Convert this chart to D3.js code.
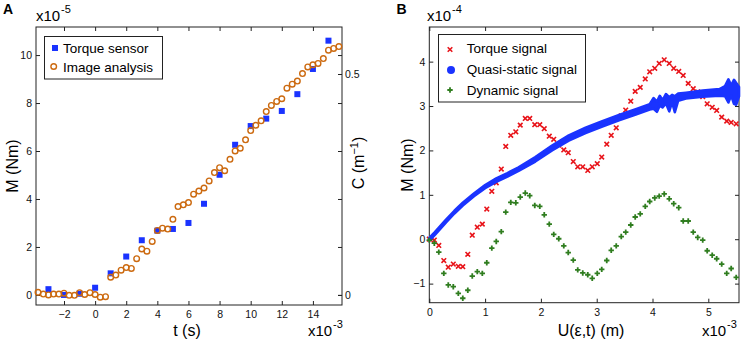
<!DOCTYPE html>
<html>
<head>
<meta charset="utf-8">
<script src="https://cdn.jsdelivr.net/npm/d3@7"></script>
<style>
  body { margin: 0; background: #fff; }
  svg { font-family: "Liberation Sans", Arial, sans-serif; }
</style>
</head>
<body>
<div id="chart"></div>
<script>
// ---- Panel A data ----
const aTicksX = [-2, 0, 2, 4, 6, 8, 10, 12, 14];
const aTicksM = [0, 2, 4, 6, 8, 10];
const aTicksC = [0, 0.5];

// torque sensor (t in ms, M in 1e-5 Nm)
const tTorque = [-3, -2, -1, 0, 1, 2, 3, 4, 5, 6, 7, 8, 9, 10, 11, 12, 13, 14, 15];
const mTorque = [0.24, 0, 0.05, 0.3, 0.9, 1.6, 2.28, 2.68, 2.75, 3.0, 3.8, 5.01, 6.26, 7.04, 7.35, 7.67, 8.37, 9.42, 10.6];

// image analysis (t in ms, C in 1/m)
const tImage = [-3.67, -3.33, -3, -2.67, -2.33, -2, -1.67, -1.33, -1, -0.67, -0.33, 0, 0.33, 0.67,
  1, 1.33, 1.67, 2, 2.33, 2.67, 3, 3.33, 3.67, 4, 4.33, 4.67, 5, 5.33, 5.67, 6, 6.33, 6.67,
  7, 7.33, 7.67, 8, 8.33, 8.67, 9, 9.33, 9.67, 10, 10.33, 10.67, 11, 11.33, 11.67, 12, 12.33,
  12.67, 13, 13.33, 13.67, 14, 14.33, 14.67, 15, 15.33, 15.67];
const cImage = [0.006, 0.002, 0, 0.002, 0.002, 0.004, -0.001, -0.001, 0.005, 0.001, 0.005, 0.001, -0.005, -0.004,
  0.040, 0.045, 0.056, 0.062, 0.060, 0.082, 0.104, 0.099, 0.121, 0.146, 0.151, 0.149, 0.171, 0.200,
  0.204, 0.209, 0.228, 0.235, 0.242, 0.258, 0.277, 0.288, 0.281, 0.307, 0.326, 0.332, 0.351, 0.372,
  0.384, 0.394, 0.415, 0.429, 0.438, 0.444, 0.468, 0.477, 0.484, 0.501, 0.516, 0.521, 0.524, 0.535,
  0.554, 0.558, 0.562];

// ---- Panel B data ----
const bTicksX = [0, 1, 2, 3, 4, 5];
const bTicksM = [-1, 0, 1, 2, 3, 4];

// U in 1e-3 m, M in 1e-4 Nm
const uGrid = [0, 0.09, 0.17, 0.26, 0.34, 0.43, 0.52, 0.60, 0.69, 0.77, 0.86, 0.95, 1.03, 1.12, 1.20,
  1.29, 1.37, 1.46, 1.55, 1.63, 1.72, 1.80, 1.89, 1.98, 2.06, 2.15, 2.23, 2.32, 2.41, 2.49, 2.58,
  2.66, 2.75, 2.84, 2.92, 3.01, 3.09, 3.18, 3.26, 3.35, 3.44, 3.52, 3.61, 3.69, 3.78, 3.87, 3.95,
  4.04, 4.12, 4.21, 4.30, 4.38, 4.47, 4.55, 4.64, 4.73, 4.81, 4.90, 4.98, 5.07, 5.15, 5.24, 5.33,
  5.41, 5.50];
const torqueSignal = [0, -0.02, -0.14, -0.48, -0.63, -0.56, -0.61, -0.62, -0.34, 0.09, 0.27, 0.34, 0.68,
  1.08, 1.27, 1.58, 2.09, 2.34, 2.42, 2.57, 2.72, 2.72, 2.58, 2.58, 2.49, 2.32, 2.25, 2.12, 2.01,
  1.95, 1.75, 1.63, 1.63, 1.55, 1.63, 1.70, 1.85, 2.14, 2.34, 2.51, 2.78, 2.91, 3.11, 3.33, 3.42,
  3.61, 3.77, 3.85, 3.96, 4.04, 3.96, 3.85, 3.78, 3.69, 3.51, 3.39, 3.32, 3.21, 3.05, 2.97, 2.90,
  2.75, 2.66, 2.63, 2.60];
const dynamicSignal = [-0.02, -0.09, -0.29, -0.77, -1.03, -1.07, -1.22, -1.33, -1.15, -0.83, -0.73, -0.77,
  -0.53, -0.20, -0.05, 0.17, 0.61, 0.83, 0.82, 0.95, 1.04, 0.98, 0.76, 0.74, 0.55, 0.34, 0.11, 0.01,
  -0.15, -0.30, -0.47, -0.69, -0.76, -0.80, -0.88, -0.77, -0.68, -0.48, -0.25, -0.15, 0.06, 0.16,
  0.32, 0.50, 0.57, 0.74, 0.85, 0.93, 0.97, 1.02, 0.91, 0.80, 0.71, 0.41, 0.41, 0.16, 0.04, -0.02,
  -0.26, -0.36, -0.44, -0.56, -0.77, -0.66, -0.86];

// quasi-static signal: dense band, given as lower / upper envelope
const qsU = [0, 0.1, 0.2, 0.3, 0.45, 0.6, 0.8, 1.0, 1.2, 1.4, 1.6, 1.9, 2.2, 2.5, 2.8, 3.1, 3.4, 3.7,
  3.95, 4.02, 4.08, 4.13, 4.18, 4.24, 4.3, 4.35, 4.4, 4.46, 4.6, 4.9, 5.2, 5.3, 5.36, 5.41, 5.46, 5.5, 5.55];
const qsLow = [-0.03, 0.10, 0.24, 0.38, 0.58, 0.76, 0.97, 1.15, 1.29, 1.41, 1.54, 1.75, 2.00, 2.22, 2.39,
  2.54, 2.68, 2.81, 2.92, 2.94, 2.87, 3.01, 2.97, 3.06, 2.88, 3.09, 2.86, 3.12, 3.17, 3.21, 3.23, 3.22,
  3.08, 3.24, 3.05, 3.03, 3.22];
const qsHigh = [0.03, 0.16, 0.30, 0.44, 0.64, 0.82, 1.03, 1.22, 1.37, 1.49, 1.62, 1.85, 2.11, 2.34, 2.51,
  2.66, 2.80, 2.93, 3.04, 3.18, 3.10, 3.23, 3.13, 3.27, 3.20, 3.25, 3.22, 3.28, 3.30, 3.35, 3.38, 3.45,
  3.60, 3.46, 3.59, 3.52, 3.43];

const axisColor = '#222';
const blue = '#1a33ff';
const orange = '#cc6a10';
const red = '#e8141a';
const green = '#2f7d1f';

var svg = d3.select('#chart').append('svg')
  .attr('width', 743)
  .attr('height', 343);

function styleAxis(g) {
  g.select('.domain').remove();
  g.selectAll('line').attr('stroke', axisColor);
  g.selectAll('text').attr('font-size', '10.5px').attr('fill', '#111')
    .attr('font-family', '"Liberation Sans", Arial, sans-serif');
}

function superLabel(x, y, sup) {
  svg.append('text').attr('x', x).attr('y', y).attr('font-size', '15px').text('x10');
  svg.append('text').attr('x', x + 25).attr('y', y - 8).attr('font-size', '11px').text(sup);
}

function frame(box, xScale, yScale, xTicks, yTicks) {
  const fmt = d3.format('');
  svg.append('g')
    .attr('transform', `translate(0,${box.bottom})`)
    .call(d3.axisBottom(xScale).tickValues(xTicks).tickFormat(fmt)
      .tickSizeInner(-4).tickSizeOuter(0).tickPadding(6))
    .call(styleAxis);
  svg.append('g')
    .attr('transform', `translate(0,${box.top})`)
    .call(d3.axisTop(xScale).tickValues(xTicks).tickSizeInner(-4).tickSizeOuter(0).tickFormat(''))
    .call(styleAxis);
  svg.append('g')
    .attr('transform', `translate(${box.left},0)`)
    .call(d3.axisLeft(yScale).tickValues(yTicks).tickFormat(fmt)
      .tickSizeInner(-4).tickSizeOuter(0).tickPadding(4))
    .call(styleAxis);
  svg.append('g')
    .attr('transform', `translate(${box.right},0)`)
    .call(d3.axisRight(yScale).tickValues(yTicks).tickSizeInner(-4).tickSizeOuter(0).tickFormat(''))
    .call(styleAxis);
  svg.append('rect')
    .attr('x', box.left).attr('y', box.top)
    .attr('width', box.right - box.left).attr('height', box.bottom - box.top)
    .attr('fill', 'none').attr('stroke', axisColor).attr('stroke-width', 1);
}

// ================= Panel A =================
const boxA = { left: 36, right: 342, top: 27, bottom: 305 };
const xA = d3.scaleLinear().domain([-3.8, 15.87]).range([boxA.left, boxA.right]);
const yA = d3.scaleLinear().domain([-0.42, 11.17]).range([boxA.bottom, boxA.top]);
const yC = d3.scaleLinear().domain([-0.0228, 0.6064]).range([boxA.bottom, boxA.top]);

frame(boxA, xA, yA, aTicksX, aTicksM);
svg.append('g')
  .attr('transform', `translate(${boxA.right},0)`)
  .call(d3.axisRight(yC).tickValues(aTicksC).tickSizeInner(-4).tickSizeOuter(0).tickPadding(3)
    .tickFormat(d3.format('')))
  .call(styleAxis);

var gA = svg.append('g');
gA.selectAll('rect.sq')
  .data(tTorque)
  .join('rect')
  .attr('x', d => xA(d) - 3)
  .attr('y', (d, i) => yA(mTorque[i]) - 3)
  .attr('width', 6).attr('height', 6)
  .attr('fill', blue);

gA.selectAll('circle.img')
  .data(tImage)
  .join('circle')
  .attr('cx', d => xA(d))
  .attr('cy', (d, i) => yC(cImage[i]))
  .attr('r', 2.8)
  .attr('fill', 'none')
  .attr('stroke', orange)
  .attr('stroke-width', 1.4);

// legend A
svg.append('rect').attr('x', 44.5).attr('y', 36.5).attr('width', 118).attr('height', 42.5)
  .attr('fill', '#fff').attr('stroke', axisColor);
svg.append('rect').attr('x', 52).attr('y', 45).attr('width', 6).attr('height', 6).attr('fill', blue);
svg.append('circle').attr('cx', 53.7).attr('cy', 66.5).attr('r', 2.8)
  .attr('fill', 'none').attr('stroke', orange).attr('stroke-width', 1.4);
svg.append('text').attr('x', 63).attr('y', 53).attr('font-size', '13.5px').text('Torque sensor');
svg.append('text').attr('x', 63).attr('y', 71.5).attr('font-size', '13.5px').text('Image analysis');

// labels A
svg.append('text').attr('x', 3).attr('y', 14).attr('font-size', '14px').attr('font-weight', 'bold').text('A');
superLabel(36, 21, '-5');
superLabel(308, 336, '-3');
svg.append('text').attr('x', 187).attr('y', 335.5).attr('font-size', '16px')
  .attr('text-anchor', 'middle').text('t (s)');
svg.append('text').attr('transform', 'translate(18,166) rotate(-90)').attr('font-size', '16px')
  .attr('text-anchor', 'middle').text('M (Nm)');
var cLab = svg.append('text').attr('transform', 'translate(364,163) rotate(-90)')
  .attr('font-size', '16px').attr('text-anchor', 'middle');
cLab.append('tspan').text('C (m');
cLab.append('tspan').attr('dy', -6).attr('font-size', '11px').text('−1');
cLab.append('tspan').attr('dy', 6).text(')');

// ================= Panel B =================
const boxB = { left: 429.3, right: 739, top: 27, bottom: 302.7 };
const xB = d3.scaleLinear().domain([0, 5.55]).range([boxB.left, boxB.right]);
const yB = d3.scaleLinear().domain([-1.43, 4.78]).range([boxB.bottom, boxB.top]);

frame(boxB, xB, yB, bTicksX, bTicksM);

var gB = svg.append('g');
const cross = 'M-2.3,-2.3L2.3,2.3M-2.3,2.3L2.3,-2.3';
const plus = 'M-2.7,0H2.7M0,-2.7V2.7';

gB.selectAll('path.torque')
  .data(uGrid)
  .join('path')
  .attr('d', cross)
  .attr('transform', (d, i) => `translate(${xB(d)},${yB(torqueSignal[i])})`)
  .attr('stroke', red)
  .attr('stroke-width', 1.6)
  .attr('fill', 'none');

// band drawn as filled envelope, the wide stroke stands in for the marker size
const band = d3.area()
  .x((d, i) => xB(d))
  .y0((d, i) => yB(qsLow[i]))
  .y1((d, i) => yB(qsHigh[i]));
gB.append('path')
  .attr('d', band(qsU))
  .attr('fill', blue)
  .attr('stroke', blue)
  .attr('stroke-width', 2.6)
  .attr('stroke-linejoin', 'round');

gB.selectAll('path.dyn')
  .data(uGrid)
  .join('path')
  .attr('d', plus)
  .attr('transform', (d, i) => `translate(${xB(d)},${yB(dynamicSignal[i])})`)
  .attr('stroke', green)
  .attr('stroke-width', 1.8)
  .attr('fill', 'none');

// legend B
svg.append('rect').attr('x', 438.5).attr('y', 34.5).attr('width', 147).attr('height', 67.5)
  .attr('fill', '#fff').attr('stroke', axisColor);
svg.append('path').attr('d', cross).attr('transform', 'translate(450,49.5)')
  .attr('stroke', red).attr('stroke-width', 1.6);
svg.append('circle').attr('cx', 451).attr('cy', 70).attr('r', 4).attr('fill', blue);
svg.append('path').attr('d', plus).attr('transform', 'translate(450,90)')
  .attr('stroke', green).attr('stroke-width', 1.8);
svg.append('text').attr('x', 466.7).attr('y', 52.7).attr('font-size', '13.5px').text('Torque signal');
svg.append('text').attr('x', 466.7).attr('y', 74).attr('font-size', '13.5px').text('Quasi-static signal');
svg.append('text').attr('x', 466.7).attr('y', 95).attr('font-size', '13.5px').text('Dynamic signal');

// labels B
svg.append('text').attr('x', 396.5).attr('y', 14).attr('font-size', '14px').attr('font-weight', 'bold').text('B');
superLabel(427, 21, '-4');
superLabel(702, 336, '-3');
svg.append('text').attr('x', 591).attr('y', 335.5).attr('font-size', '16px')
  .attr('text-anchor', 'middle').text('U(ε,t) (m)');
svg.append('text').attr('transform', 'translate(413,165) rotate(-90)').attr('font-size', '16px')
  .attr('text-anchor', 'middle').text('M (Nm)');
</script>
</body>
</html>
